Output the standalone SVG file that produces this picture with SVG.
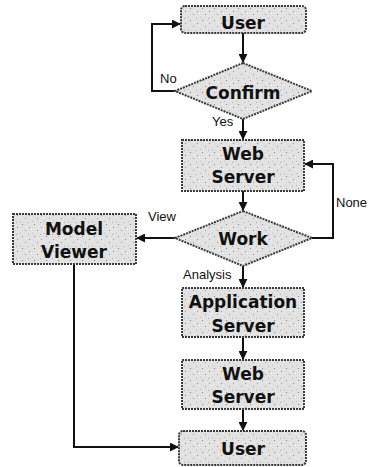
<svg xmlns="http://www.w3.org/2000/svg" width="372" height="467" viewBox="0 0 372 467">
<style>
.node{fill:url(#stip);stroke:#3a3a3a;stroke-width:2;stroke-dasharray:2 1}
.t{font-family:"DejaVu Sans",Verdana,sans-serif;font-weight:bold;font-size:17px;fill:#111;text-anchor:middle}
.lbl{font-family:"Liberation Sans",Arial,sans-serif;font-size:13px;fill:#111}
.c{fill:none;stroke:#111;stroke-width:2}
</style>
<defs>
<pattern id="stip" width="12" height="12" patternUnits="userSpaceOnUse">
<rect width="12" height="12" fill="#e2e2e2"/>
<rect x="1" y="2" width="1" height="1" fill="#999"/>
<rect x="7" y="1" width="1" height="1" fill="#fff"/>
<rect x="4" y="6" width="1" height="1" fill="#aaa"/>
<rect x="10" y="8" width="1" height="1" fill="#888"/>
<rect x="2" y="10" width="1" height="1" fill="#fff"/>
<rect x="8" y="5" width="1" height="1" fill="#bbb"/>
<rect x="5" y="11" width="1" height="1" fill="#999"/>
</pattern>
<marker id="ah" viewBox="0 0 10 10" refX="9" refY="5" markerWidth="4.5" markerHeight="4.5" orient="auto">
<path d="M0,0 L10,5 L0,10 z" fill="#111"/>
</marker>
</defs>
<g id="connectors">
<line class="c" x1="243" y1="33" x2="243" y2="62" marker-end="url(#ah)"/>
<polyline class="c" points="175,91 152,91 152,24 180,24" marker-end="url(#ah)"/>
<line class="c" x1="243" y1="119" x2="243" y2="139" marker-end="url(#ah)"/>
<line class="c" x1="243" y1="191" x2="243" y2="210" marker-end="url(#ah)"/>
<polyline class="c" points="312,238 333,238 333,164 305,164" marker-end="url(#ah)"/>
<line class="c" x1="175" y1="238" x2="137" y2="238" marker-end="url(#ah)"/>
<line class="c" x1="243" y1="266" x2="243" y2="287" marker-end="url(#ah)"/>
<line class="c" x1="243" y1="337" x2="243" y2="359" marker-end="url(#ah)"/>
<line class="c" x1="243" y1="409" x2="243" y2="430" marker-end="url(#ah)"/>
<polyline class="c" points="74,264 74,447 178,447" marker-end="url(#ah)"/>
<text class="lbl" x="160" y="83">No</text>
<text class="lbl" x="212" y="126">Yes</text>
<text class="lbl" x="336" y="207">None</text>
<text class="lbl" x="148" y="221">View</text>
<text class="lbl" x="183" y="279">Analysis</text>
</g>
<g id="user1">
<rect class="node" x="181" y="6" width="125" height="27" rx="4"/>
<text class="t" x="243" y="29">User</text>
</g>
<g id="confirm">
<polygon class="node" points="243,63 312,91 243,119 175,91"/>
<text class="t" x="243" y="99">Confirm</text>
</g>
<g id="webserver1">
<rect class="node" x="182" y="140" width="122" height="51"/>
<text class="t" x="243" y="160">Web</text>
<text class="t" x="243" y="183">Server</text>
</g>
<g id="work">
<polygon class="node" points="243,211 312,238 243,266 175,238"/>
<text class="t" x="243" y="245">Work</text>
</g>
<g id="modelviewer">
<rect class="node" x="13" y="214" width="123" height="50"/>
<text class="t" x="74" y="235">Model</text>
<text class="t" x="74" y="258">Viewer</text>
</g>
<g id="appserver">
<rect class="node" x="182" y="288" width="122" height="49"/>
<text class="t" x="243" y="308">Application</text>
<text class="t" x="243" y="332">Server</text>
</g>
<g id="webserver2">
<rect class="node" x="182" y="360" width="122" height="49"/>
<text class="t" x="243" y="380">Web</text>
<text class="t" x="243" y="403">Server</text>
</g>
<g id="user2">
<rect class="node" x="179" y="431" width="127" height="34" rx="4"/>
<text class="t" x="243" y="455">User</text>
</g>
</svg>
